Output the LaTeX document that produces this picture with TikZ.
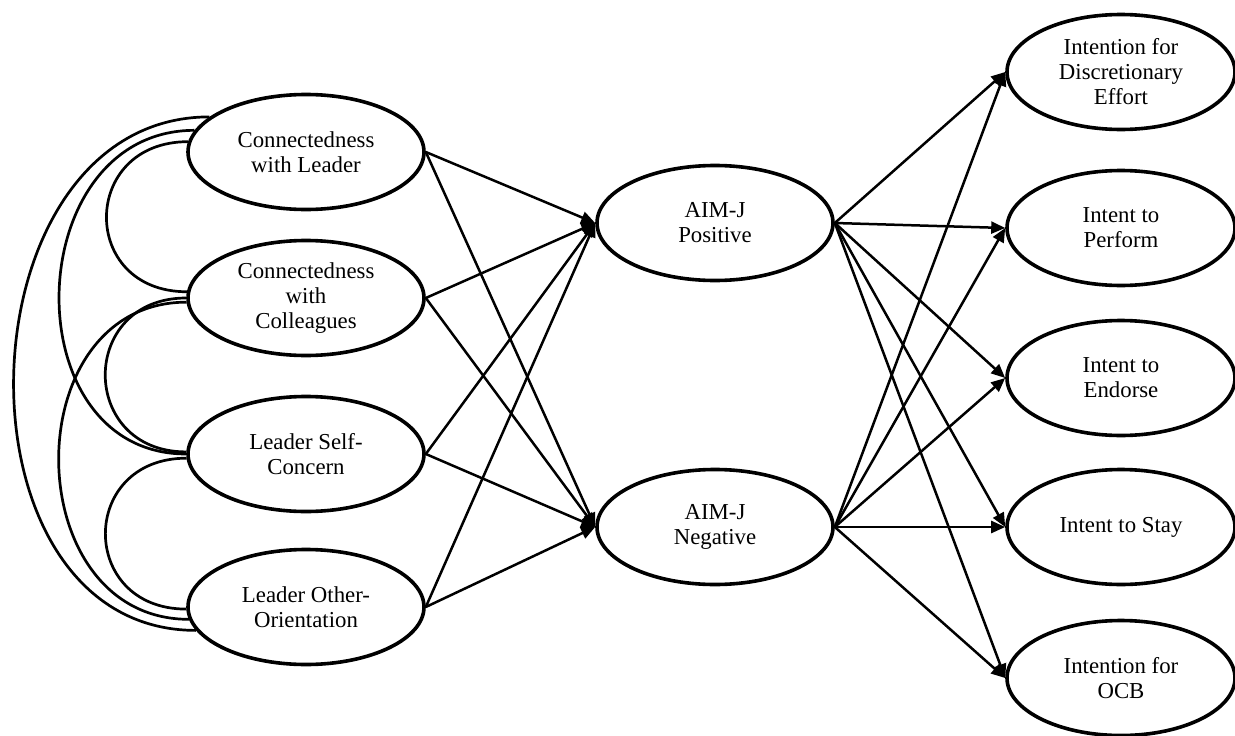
\documentclass[tikz,border=0pt]{standalone}
\usepackage{fontspec}
\setmainfont{Liberation Serif}
\usetikzlibrary{shapes.geometric,arrows.meta}
\begin{document}
\begin{tikzpicture}[x=1pt,y=-1pt,
  var/.style={ellipse,draw,line width=3.6pt,minimum width=236pt,minimum height=115pt,
    inner sep=0pt,align=center,font=\fontsize{22.8}{25}\selectfont},
  rvar/.style={var,minimum width=228pt},
  path/.style={line width=2.5pt,-{Triangle[length=14pt,width=12pt]}},
  cov/.style={line width=2.7pt}]
\useasboundingbox (0,0) rectangle (1235,736);
\begin{scope}
\clip (0,0) rectangle (1235,736);
% left exogenous variables
\node[var] (c1) at (306,152) {Connectedness\\with Leader};
\node[var] (c2) at (306,298) {Connectedness\\with\\Colleagues};
\node[var] (c3) at (306,454) {Leader Self-\\Concern};
\node[var] (c4) at (306,607) {Leader Other-\\Orientation};
% mediators
\node[var] (m1) at (715,223) {AIM-J\\Positive};
\node[var] (m2) at (715,527) {AIM-J\\Negative};
% outcomes
\node[rvar] (r1) at (1121,72) {Intention for\\Discretionary\\Effort};
\node[rvar] (r2) at (1121,228) {Intent to\\Perform};
\node[rvar] (r3) at (1121,378) {Intent to\\Endorse};
\node[rvar] (r4) at (1121,527) {Intent to Stay};
\node[rvar] (r5) at (1121,678) {Intention for\\OCB};
\end{scope}
% covariances
\draw[cov] (c1.175.6) .. controls +(-108,0) and +(-108,0) .. (c2.177.6);
\draw[cov] (c2.180) .. controls +(-108,0) and +(-108,0) .. (c3.179);
\draw[cov] (c3.182) .. controls +(-108,0) and +(-108,0) .. (c4.181.5);
\draw[cov] (c1.169.8) .. controls +(-175,0) and +(-175,0) .. (c3.180.5);
\draw[cov] (c2.182) .. controls +(-172,0) and +(-172,0) .. (c4.186.3);
\draw[cov] (c1.160.3) .. controls +(-252,0) and +(-252,0) .. (c4.192);
% paths to mediators
\foreach \s in {c1,c2,c3,c4}{
  \draw[path] (\s.east) -- (m1.west);
  \draw[path] (\s.east) -- (m2.west);
}
% paths to outcomes
\foreach \t in {r1,r2,r3,r4,r5}{
  \draw[path] (m1.east) -- (\t.west);
  \draw[path] (m2.east) -- (\t.west);
}
\end{tikzpicture}
\end{document}
